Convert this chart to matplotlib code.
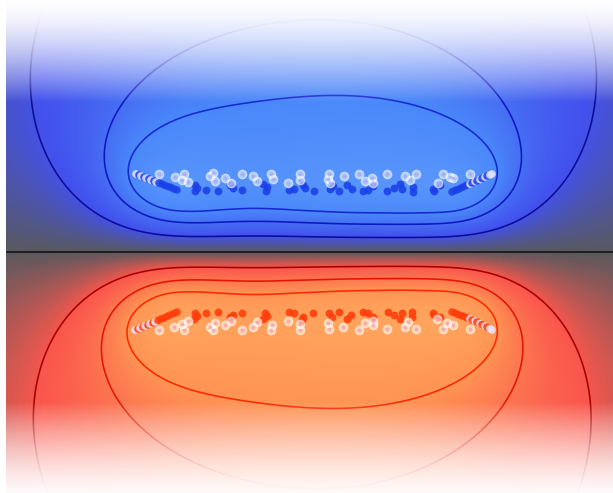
import numpy as np
import matplotlib
matplotlib.use("Agg")
import matplotlib.pyplot as plt
from matplotlib.colors import LinearSegmentedColormap, Normalize

# ---- upper leaflet -------------------------------------------------------
upper_neutral_x = [159, 175, 184, 182, 188, 210, 213, 215, 225, 231, 242, 253, 257,
                   271, 273, 288, 300, 300, 329, 328, 330, 344, 359, 365, 372, 373,
                   387, 405, 410, 416, 438, 443, 450, 453, 470]
upper_neutral_y = [174, 177, 174, 180, 182, 176, 173, 181, 178, 183, 174, 176, 181,
                   174, 179, 183, 174, 180, 174, 179, 183, 176, 174, 181, 178, 183,
                   174, 176, 180, 174, 183, 174, 177, 178, 174]
upper_anion_x = [195, 197, 195, 206, 218, 230, 233, 242, 263, 267, 266, 289, 294,
                 303, 305, 314, 330, 333, 339, 347, 352, 363, 368, 373, 387, 394,
                 400, 402, 413, 413, 433, 434, 440]
upper_anion_y = [185, 188, 191, 190, 191, 185, 188, 190, 184, 187, 191, 190, 189,
                 185, 188, 191, 189, 186, 191, 185, 189, 191, 190, 186, 191, 188,
                 184, 189, 187, 192, 189, 191, 185]
upper_tail_x = [136, 139, 141, 144, 146, 149, 151, 154, 156, 159, 162, 165, 168, 171, 174, 177,
                452, 455, 458, 461, 464, 467, 470, 472, 475, 477, 480, 482, 485, 487, 490, 492]
upper_tail_y = [174, 175, 176, 177, 178, 179, 180, 181, 182, 183, 184, 185.5, 186.5, 187.5, 189, 190,
                192, 190.5, 189.5, 188, 186.5, 185, 184, 183, 181.5, 181, 179.5, 178.5, 177, 176, 175, 174]
upper_tail_kind = ['n', 'a', 'n', 'a', 'n', 'a', 'n', 'a', 'n', 'a', 'a', 'a', 'a', 'a', 'a', 'a',
                   'a', 'a', 'a', 'a', 'a', 'a', 'n', 'a', 'n', 'a', 'n', 'a', 'n', 'a', 'n', 'n']

# ---- lower leaflet -------------------------------------------------------
lower_neutral_x = [159, 174, 182, 188, 184, 210, 215, 213, 225, 231, 242, 253, 257,
                   272, 271, 288, 300, 300, 328, 329, 343, 359, 365, 373, 373, 387,
                   405, 408, 416, 437, 443, 447, 453, 470]
lower_neutral_y = [330, 327, 324, 321, 330, 327, 323, 330, 325, 321, 330, 327, 322,
                   325, 330, 321, 324, 330, 323, 329, 327, 330, 323, 321, 325, 329,
                   327, 322, 329, 319, 329, 323, 325, 329]
lower_cation_x = [195, 197, 194, 206, 218, 230, 233, 242, 265, 267, 263, 289, 294,
                  303, 302, 313, 329, 332, 339, 347, 351, 363, 368, 373, 388, 394,
                  400, 402, 412, 412, 433, 434, 440]
lower_cation_y = [313, 316, 319, 313, 312, 317, 315, 313, 313, 316, 319, 312, 313,
                  317, 320, 313, 313, 317, 312, 319, 315, 312, 313, 317, 312, 315,
                  319, 313, 312, 317, 313, 315, 317]
lower_tail_x = [135, 138, 140, 143, 145, 148, 150, 153, 155, 158, 161, 164, 167, 170, 174, 177,
                452, 455, 458, 461, 464, 467, 470, 472, 475, 477, 480, 482, 485, 487, 490, 492]
lower_tail_y = [330, 329, 328, 327, 326, 325, 324, 323, 322, 320.5, 319, 318, 316.5, 315, 313.5, 312,
                312, 313, 314.5, 315.5, 316.5, 318, 319, 320, 321, 322, 323.5, 324.5, 326, 327, 328.5, 330]
lower_tail_kind = ['n', 'c', 'n', 'c', 'n', 'c', 'n', 'c', 'n', 'c', 'c', 'c', 'c', 'c', 'c', 'c',
                   'c', 'c', 'c', 'c', 'c', 'c', 'n', 'c', 'n', 'c', 'n', 'c', 'n', 'c', 'n', 'n']

midplane_y = 252

# iso-potential levels (negative around the anionic leaflet, positive around the cationic one)
contour_levels = [-1.87, -1.33, -0.69, 0.71, 1.30, 1.86]
contour_colors = ['#1828d0', '#0c18c0', '#0a0c98', '#a80000', '#e41600', '#ff2800']
color_limit = 3.7

# ---- potential of the charged sites ----------------------------------------
qx, qy, qv = [], [], []
for xs, ys, q in [(upper_anion_x, upper_anion_y, -1.0), (lower_cation_x, lower_cation_y, 1.0)]:
    qx += xs; qy += ys; qv += [q] * len(xs)
for xs, ys, ks in [(upper_tail_x, upper_tail_y, upper_tail_kind),
                   (lower_tail_x, lower_tail_y, lower_tail_kind)]:
    for x, y, k in zip(xs, ys, ks):
        if k in 'ac':
            qx.append(x); qy.append(y); qv.append(-1.0 if k == 'a' else 1.0)

xmin, xmax, ymin, ymax = 6, 613, 0, 493
gx = np.linspace(xmin, xmax, 608)
gy = np.linspace(ymin, ymax, 494)
X, Y = np.meshgrid(gx, gy)
decay, soft = 0.33, 20.0

V = np.zeros_like(X)
for x, y, q in zip(qx, qy, qv):
    V += q / ((X - x) ** 2 + (Y - y) ** 2 + soft ** 2) ** (decay / 2)

cmap = LinearSegmentedColormap.from_list("pot", [
    (0.00, (0.40, 0.63, 1.00)),
    (0.25, (0.29, 0.53, 0.98)),
    (0.40, (0.26, 0.32, 0.93)),
    (0.50, (0.35, 0.35, 0.37)),
    (0.60, (0.98, 0.34, 0.30)),
    (0.75, (1.00, 0.58, 0.33)),
    (1.00, (1.00, 0.70, 0.40)),
])

fig = plt.figure(figsize=(6.13, 4.93), dpi=100)
ax = fig.add_axes([xmin / 613, 0, (xmax - xmin) / 613, 1])
ax.imshow(V, cmap=cmap, norm=Normalize(-color_limit, color_limit),
          extent=[xmin, xmax, ymax, ymin], origin='upper', interpolation='bilinear', zorder=0)
ax.contour(X, Y, V, levels=contour_levels, colors=contour_colors, linewidths=1.15, zorder=1)
ax.axhline(midplane_y, color='#1a1a1a', lw=1.3, zorder=2)

# fade to white away from the membrane
d = np.abs(gy - midplane_y)
s = np.clip((d - 150) / (midplane_y - 150), 0, 1)
fade = 1 - (1 - s) ** 1.6
white = np.ones((len(gy), 1, 4))
white[:, 0, 3] = fade
ax.imshow(white, extent=[xmin, xmax, ymax, ymin], aspect='auto', origin='upper',
          interpolation='bilinear', zorder=3)

# head-group sites
neutral_face = (1, 1, 1, 0.5)
neutral_edge = (1, 1, 1, 0.55)
ax.scatter(upper_anion_x, upper_anion_y, s=32, color='#1a40e8', alpha=0.88, lw=0, zorder=4)
ax.scatter(lower_cation_x, lower_cation_y, s=32, color='#ff3c0a', alpha=0.88, lw=0, zorder=4)
ax.scatter(upper_neutral_x, upper_neutral_y, s=36, facecolor=neutral_face,
           edgecolor=neutral_edge, lw=1.0, zorder=5)
ax.scatter(lower_neutral_x, lower_neutral_y, s=36, facecolor=neutral_face,
           edgecolor=neutral_edge, lw=1.0, zorder=5)
ax.scatter(upper_neutral_x, upper_neutral_y, s=6, color='#a8a8f0', alpha=0.8, lw=0, zorder=6)
ax.scatter(lower_neutral_x, lower_neutral_y, s=6, color='#f0a0b0', alpha=0.8, lw=0, zorder=6)
tail_colors = {'a': '#1a40e8', 'c': '#ff3c0a', 'n': '#e8e4fa'}
for xs, ys, ks in [(upper_tail_x, upper_tail_y, upper_tail_kind),
                   (lower_tail_x, lower_tail_y, lower_tail_kind)]:
    ax.scatter(xs, ys, s=30, c=[tail_colors[k] for k in ks], alpha=0.85, lw=0, zorder=5)

ax.set_xlim(xmin, xmax)
ax.set_ylim(ymax, ymin)
ax.axis('off')
fig.savefig("out.png", dpi=100)
